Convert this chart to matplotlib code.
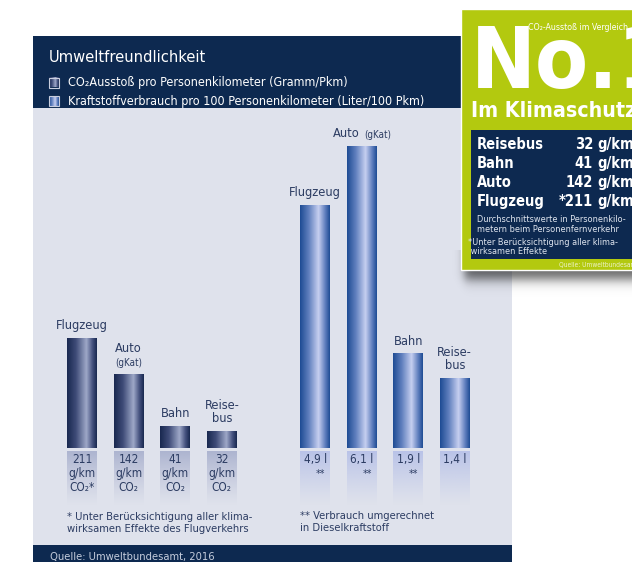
import numpy as np
import matplotlib.pyplot as plt
from matplotlib.patches import Rectangle
from matplotlib.colors import LinearSegmentedColormap

plt.rcParams['font.family'] = 'DejaVu Sans'
plt.rcParams['font.stretch'] = 'condensed'

# --- Daten ---
verkehrsmittel = ['Flugzeug', 'Auto', 'Bahn', 'Reisebus']
bar_labels = ['Flugzeug', 'Auto', 'Bahn', 'Reise-\nbus']
co2_werte = [211, 142, 41, 32]          # g/km CO2 pro Personenkilometer
co2_stern = ['*', '', '', '']
verbrauch = [4.9, 6.1, 1.9, 1.4]        # Liter / 100 Pkm
verbrauch_stern = ['**', '**', '**', '']

NAVY = '#0d2950'
PANEL = '#dfe2ec'
TXT = '#2c3c62'
GREEN = '#b3c90f'

W, H = 632, 562
fig = plt.figure(figsize=(W / 100, H / 100), dpi=100)
fig.patch.set_facecolor('white')
bg = fig.add_axes([0, 0, 1, 1])
bg.axis('off')


def px_axes(x0, y0, x1, y1):
    a = fig.add_axes([x0 / W, 1 - y1 / H, (x1 - x0) / W, (y1 - y0) / H])
    a.axis('off')
    a.patch.set_visible(False)
    return a


# panel
bg.add_patch(Rectangle((33, 36), 479, 530, fc=NAVY, lw=0, zorder=0))
bg.add_patch(Rectangle((33, 108), 479, 437, fc=PANEL, lw=0, zorder=1))

bg.text(49, 57, 'Umweltfreundlichkeit', color='white', fontsize=11.8,
        ha='left', va='center', zorder=2)

co2_stops = [(0, '#18284f'), (0.3, '#3f4c78'), (0.65, '#9ea8c8'),
             (0.85, '#45527f'), (1, '#18284f')]
fuel_stops = [(0, '#1d4b93'), (0.3, '#6281bf'), (0.62, '#c6cff0'),
              (0.85, '#5c7cbc'), (1, '#1d4b93')]
grad = np.linspace(0, 1, 256).reshape(1, -1)

for stops, yc, txt in [(co2_stops, 82.5, 'CO₂Ausstoß pro Personenkilometer (Gramm/Pkm)'),
                       (fuel_stops, 101, 'Kraftstoffverbrauch pro 100 Personenkilometer (Liter/100 Pkm)')]:
    cm = LinearSegmentedColormap.from_list('leg', stops)
    bg.imshow(grad, cmap=cm, extent=(49, 59, yc + 5, yc - 5), aspect='auto', zorder=2)
    bg.add_patch(Rectangle((49, yc - 5), 10, 10, fc='none', ec='#c9cede', lw=0.8, zorder=3))
    bg.text(68, yc, txt, color='white', fontsize=9, ha='left', va='center', zorder=2)


def gradient_bars(ax, values, stops):
    cm = LinearSegmentedColormap.from_list('bar', stops)
    bars = ax.bar(range(len(values)), values, width=0.645, color='none', lw=0)
    for b in bars:
        ax.imshow(grad, cmap=cm, aspect='auto', zorder=2,
                  extent=(b.get_x(), b.get_x() + b.get_width(), 0, b.get_height()))
    return bars


def bar_px(ax, b):
    x0 = ax.transData.transform((b.get_x(), 0))[0]
    x1 = ax.transData.transform((b.get_x() + b.get_width(), 0))[0]
    return x0, x1


def value_box(x0, x1, color):
    rgb = np.array(plt.matplotlib.colors.to_rgb(color))
    n = 60
    img = np.zeros((n, 1, 4))
    img[:, 0, :3] = rgb
    img[:, 0, 3] = np.linspace(1, 0, n) ** 1.2
    bg.imshow(img, extent=(x0, x1, 506, 451), aspect='auto', zorder=2)


def put_labels(ax, values, gkat_inline):
    for i, (lab, v) in enumerate(zip(bar_labels, values)):
        if lab == 'Auto':
            if gkat_inline:
                ax.annotate('Auto', (i, v), xytext=(-1.5, 4.5), textcoords='offset points',
                            ha='right', va='bottom', fontsize=9.2, color=TXT, annotation_clip=False)
                ax.annotate('(gKat)', (i, v), xytext=(1.5, 4.5), textcoords='offset points',
                            ha='left', va='bottom', fontsize=7, color=TXT, annotation_clip=False)
            else:
                ax.annotate('(gKat)', (i, v), xytext=(0, 4.5), textcoords='offset points',
                            ha='center', va='bottom', fontsize=7, color=TXT, annotation_clip=False)
                ax.annotate('Auto', (i, v), xytext=(0, 14), textcoords='offset points',
                            ha='center', va='bottom', fontsize=9.2, color=TXT, annotation_clip=False)
        else:
            ax.annotate(lab, (i, v), xytext=(0, 4.5), textcoords='offset points',
                        ha='center', va='bottom', fontsize=9.2, color=TXT,
                        linespacing=1.05, annotation_clip=False)


# linke Gruppe: CO2
s_co2 = 0.52
ax1 = px_axes(59, 300, 245, 448)
bars1 = gradient_bars(ax1, co2_werte, co2_stops)
ax1.set_xlim(-0.5, 3.5)
ax1.set_ylim(0, 148 / s_co2)
put_labels(ax1, co2_werte, False)
for b, v, st in zip(bars1, co2_werte, co2_stern):
    x0, x1 = bar_px(ax1, b)
    value_box(x0, x1, '#adb4d0')
    bg.text((x0 + x1) / 2, 453, f'{v}\ng/km\nCO₂{st}', ha='center', va='top',
            fontsize=8.5, color=TXT, linespacing=1.12, zorder=3)

# rechte Gruppe: Verbrauch
s_fuel = 49.5
ax2 = px_axes(292, 120, 478, 448)
bars2 = gradient_bars(ax2, verbrauch, fuel_stops)
ax2.set_xlim(-0.5, 3.5)
ax2.set_ylim(0, 328 / s_fuel)
put_labels(ax2, verbrauch, True)
for b, v, st in zip(bars2, verbrauch, verbrauch_stern):
    x0, x1 = bar_px(ax2, b)
    value_box(x0, x1, '#b9c3e8')
    bg.text((x0 + x1) / 2, 459, f'{v:.1f} l'.replace('.', ','), ha='center', va='center',
            fontsize=8.5, color=TXT, zorder=3)
    if st:
        bg.text(x1 - 5, 474, st, ha='right', va='center', fontsize=7.5, color=TXT, zorder=3)

# Fussnoten
bg.text(67, 523, '* Unter Berücksichtigung aller klima-\nwirksamen Effekte des Flugverkehrs',
        ha='left', va='center', fontsize=8, color=TXT, linespacing=1.35, zorder=3)
bg.text(300, 522, '** Verbrauch umgerechnet\nin Dieselkraftstoff',
        ha='left', va='center', fontsize=8, color=TXT, linespacing=1.35, zorder=3)
bg.text(50, 557, 'Quelle: Umweltbundesamt, 2016', ha='left', va='center',
        fontsize=8, color='#c5cddd', zorder=3)

# gruene Box mit Schatten
yy, xx = np.mgrid[250:300, 440:633]
sx = 1 / (1 + np.exp(-(xx - 464) / 2.5))
sy = 1 / (1 + np.exp((yy - 279) / 3.5))
shadow = np.zeros(sx.shape + (4,))
shadow[..., 3] = 0.6 * sx * sy
bg.imshow(shadow, extent=(440, 633, 300, 250), aspect='auto', zorder=4)

bg.add_patch(Rectangle((461, 9), 200, 261, fc=GREEN, ec='white', lw=1, zorder=5))
bg.text(471, 88, 'No.1', color='white', fontsize=62, fontweight='bold',
        ha='left', va='baseline', zorder=6)
bg.text(528, 30.5, 'CO₂-Ausstoß im Vergleich', color='white', fontsize=6.3,
        ha='left', va='baseline', zorder=7)
bg.text(471, 117, 'Im Klimaschutz', color='white', fontsize=15.3, fontweight='bold',
        ha='left', va='baseline', zorder=6)
bg.add_patch(Rectangle((471, 130), 200, 129, fc=NAVY, lw=0, zorder=6))

order = np.argsort(co2_werte)
for k, i in enumerate(order):
    yb = 149 + 19 * k
    bg.text(477, yb, verkehrsmittel[i], color='white', fontsize=10.5, fontweight='bold',
            ha='left', va='baseline', zorder=7)
    bg.text(593, yb, f'{co2_stern[i]}{co2_werte[i]}', color='white', fontsize=10.5,
            fontweight='bold', ha='right', va='baseline', zorder=7)
    bg.text(597, yb, 'g/km', color='white', fontsize=10.5, fontweight='bold',
            ha='left', va='baseline', zorder=7)

bg.text(477, 231.5, 'Durchschnittswerte in Personenkilo-\nmetern beim Personenfernverkehr',
        color='#dfe5ef', fontsize=6.6, ha='left', va='baseline', linespacing=1.0, zorder=7)
bg.text(468, 254, '*Unter Berücksichtigung aller klima-\n wirksamen Effekte',
        color='#dfe5ef', fontsize=6.6, ha='left', va='baseline', linespacing=1.0, zorder=7)
bg.text(559, 266.5, 'Quelle: Umweltbundesamt', color='#eef3cc', fontsize=4.8,
        ha='left', va='baseline', zorder=7)

bg.set_xlim(0, W)
bg.set_ylim(H, 0)

fig.savefig('out.png', dpi=100)
